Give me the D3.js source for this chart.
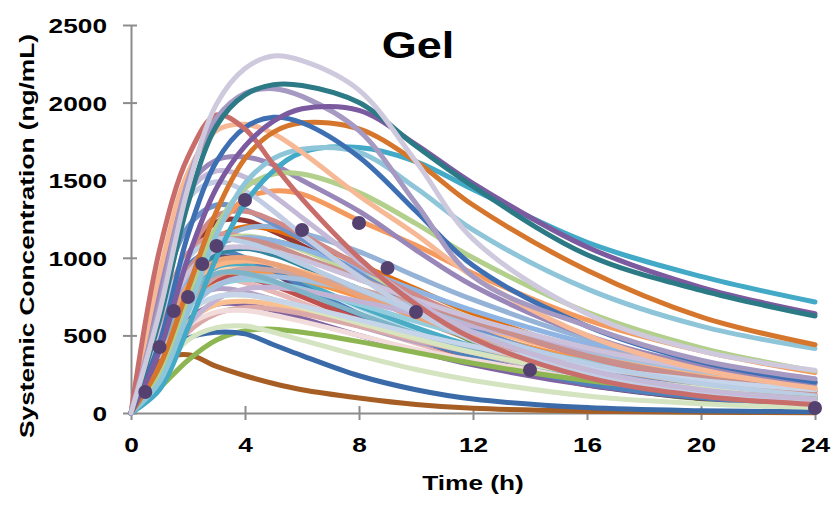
<!DOCTYPE html>
<html>
<head>
	<title>Gel</title>
	<script src="https://cdnjs.cloudflare.com/ajax/libs/d3/7.8.5/d3.min.js"></script>
	<style>
		body { margin: 0; background: #fff; }
		text { font-family: "Liberation Sans", Arial, sans-serif; font-weight: bold; fill: #000; }
	</style>
</head>
<body>
<script>
// sampling times (h) for every simulated profile
var hours = [0, 1, 2, 3, 4, 5, 6, 8, 10, 12, 16, 20, 24];

// simulated profiles (ng/mL)
var concentrations = [
	[0, 500, 1000, 1230, 1240, 1170, 1080, 880, 700, 540, 310, 180, 100],
	[0, 380, 850, 1120, 1200, 1180, 1120, 960, 800, 640, 400, 250, 160],
	[0, 400, 860, 1100, 1190, 1200, 1160, 1040, 880, 730, 480, 310, 200],
	[0, 600, 1030, 1150, 1130, 1050, 960, 780, 610, 470, 270, 155, 90],
	[0, 400, 850, 1080, 1130, 1110, 1060, 880, 650, 460, 200, 90, 40],
	[0, 500, 900, 1020, 1000, 930, 850, 680, 530, 400, 220, 120, 70],
	[0, 350, 720, 900, 950, 930, 880, 760, 630, 510, 330, 210, 130],
	[0, 450, 850, 1000, 980, 900, 800, 620, 460, 340, 180, 95, 50],
	[0, 380, 780, 940, 960, 910, 840, 690, 550, 430, 260, 155, 90],
	[0, 300, 680, 860, 910, 900, 860, 750, 630, 520, 340, 220, 140],
	[0, 450, 800, 870, 840, 780, 710, 570, 450, 350, 200, 115, 65],
	[0, 350, 730, 860, 870, 820, 750, 600, 470, 360, 200, 110, 60],
	[0, 300, 600, 700, 700, 660, 610, 500, 400, 310, 180, 100, 60],
	[0, 400, 720, 800, 780, 730, 670, 560, 460, 380, 250, 165, 110],
	[0, 280, 580, 700, 720, 700, 660, 570, 480, 400, 270, 180, 120],
	[0, 550, 950, 1050, 1000, 920, 820, 640, 480, 360, 190, 100, 55],
	[0, 420, 830, 1020, 1060, 1020, 950, 800, 650, 520, 320, 190, 110],
	[0, 450, 900, 1100, 1140, 1110, 1050, 900, 750, 610, 390, 240, 150],
	[0, 320, 660, 820, 860, 840, 800, 700, 590, 490, 330, 220, 140],
	[0, 250, 520, 640, 680, 670, 640, 560, 470, 390, 260, 170, 110],
	[0, 400, 800, 950, 980, 960, 910, 800, 680, 560, 370, 240, 150],
	[0, 450, 880, 1080, 1130, 1110, 1060, 930, 790, 660, 450, 300, 200],
	[0, 300, 560, 650, 660, 630, 590, 500, 410, 340, 220, 140, 90],
	[0, 700, 1200, 1340, 1310, 1220, 1120, 900, 700, 540, 310, 170, 100],
	[0, 500, 1020, 1270, 1300, 1240, 1150, 950, 760, 600, 360, 210, 120],
	[0, 350, 700, 880, 930, 920, 890, 800, 700, 600, 420, 290, 200],
	[0, 300, 650, 820, 880, 880, 860, 780, 680, 580, 400, 270, 180],
	[0, 420, 820, 980, 1000, 960, 900, 760, 620, 500, 310, 190, 120],
	[0, 250, 560, 730, 800, 810, 790, 720, 640, 560, 410, 300, 220],
	[0, 380, 760, 900, 900, 850, 780, 640, 510, 400, 240, 145, 85],
	[0, 500, 920, 1100, 1120, 1080, 1010, 870, 720, 590, 370, 230, 140],
	[0, 500, 900, 1050, 1070, 1040, 990, 860, 730, 610, 420, 280, 190],
	[0, 330, 640, 750, 760, 730, 680, 580, 480, 390, 250, 160, 100],
	[0, 350, 650, 750, 760, 730, 690, 600, 510, 430, 300, 210, 150],
	[0, 600, 1000, 1120, 1100, 1040, 960, 800, 650, 520, 320, 190, 110],
	[0, 330, 375, 300, 240, 190, 150, 97, 55, 30, 12, 5, 2],
	[0, 160, 340, 470, 530, 540, 520, 460, 390, 320, 210, 140, 90],
	[0, 300, 480, 520, 510, 440, 370, 240, 150, 90, 35, 15, 8],
	[0, 250, 470, 550, 560, 520, 470, 370, 280, 210, 110, 60, 35],
	[0, 300, 800, 1180, 1380, 1430, 1410, 1240, 1080, 900, 600, 400, 260],
	[0, 850, 1380, 1490, 1430, 1300, 1150, 880, 650, 470, 250, 130, 80],
	[0, 800, 1420, 1560, 1520, 1400, 1260, 980, 720, 520, 280, 150, 90],
	[0, 800, 1450, 1630, 1650, 1600, 1500, 1300, 1050, 820, 500, 300, 190],
	[0, 250, 750, 1200, 1450, 1540, 1540, 1420, 1220, 1000, 650, 420, 270],
	[0, 150, 550, 1000, 1350, 1560, 1680, 1710, 1620, 1440, 1100, 880, 715],
	[0, 200, 650, 1150, 1480, 1640, 1700, 1680, 1450, 1180, 800, 560, 415],
	[0, 900, 1550, 1820, 1860, 1800, 1680, 1400, 1150, 880, 500, 280, 160],
	[0, 300, 800, 1300, 1640, 1810, 1870, 1830, 1620, 1340, 920, 620, 440],
	[0, 450, 1150, 1620, 1840, 1905, 1870, 1650, 1300, 950, 560, 330, 200],
	[0, 1050, 1650, 1920, 1830, 1600, 1380, 1000, 700, 480, 230, 110, 55],
	[0, 700, 1500, 1900, 2060, 2090, 2040, 1820, 1350, 880, 560, 340, 220],
	[0, 400, 1000, 1450, 1720, 1880, 1960, 1950, 1730, 1480, 1070, 810, 640],
	[0, 600, 1350, 1850, 2050, 2115, 2110, 2000, 1720, 1460, 1020, 790, 625],
	[0, 650, 1450, 1990, 2220, 2300, 2270, 2080, 1620, 1120, 640, 400, 275]
];

// one colour per profile, same order
var palette = [
	"#953735", "#e46c0a", "#95b3d7", "#d99694", "#77933c", "#b7dee8", "#fcd5b5", "#604a7b",
	"#4bacc6", "#f79646", "#e6b9b8", "#c0504d", "#8064a2", "#b3a2c7", "#fac090", "#4f81bd",
	"#31859c", "#c3d69b", "#93cddd", "#dba9a7", "#fab585", "#8eb4e3", "#f2dcdb", "#6f93c8",
	"#d08a88", "#c9a5a3", "#a5bfdd", "#e9a27a", "#c2b3d4", "#7fb3c8", "#c88f8d",
	"#ccc1da", "#d7e4bd", "#c6d5ea", "#b9cde5", "#a65e24", "#8db652", "#3a6aa8",
	"#d4e3c0", "#f59a5e", "#c2cde3", "#c4b9d6", "#9a87b9", "#b3cf8c", "#42a9c6", "#8fc5d9",
	"#f7b995", "#d5762c", "#3d6fb2", "#c96d6b", "#a699c2", "#7b5a9f", "#2b7a86", "#cfc9de"
];

// observed data
var obsHours = [0.5, 1, 1.5, 2, 2.5, 3, 4, 6, 8, 9, 10, 14, 24];
var obsConc = [135, 425, 657, 747, 960, 1076, 1372, 1179, 1224, 934, 651, 277, 32];

var xTicks = [0, 4, 8, 12, 16, 20, 24];
var yTicks = [0, 500, 1000, 1500, 2000, 2500];

var width = 837, height = 506;
var stretch = 1.25; // the source text is drawn wide

var svg = d3.select("body").append("svg")
	.attr("width", width)
	.attr("height", height);

var x = d3.scaleLinear().domain([0, 24]).range([131, 815]);
var y = d3.scaleLinear().domain([0, 2500]).range([413, 25]);

// axes
var xAxis = svg.append("g")
	.attr("transform", "translate(0," + y(0) + ")")
	.call(d3.axisBottom(x).tickValues(xTicks).tickSizeInner(7).tickSizeOuter(0).tickFormat(d3.format("d")));
var yAxis = svg.append("g")
	.attr("transform", "translate(" + x(0) + ",0)")
	.call(d3.axisLeft(y).tickValues(yTicks).tickSizeInner(8).tickSizeOuter(0).tickFormat(d3.format("d")));

[xAxis, yAxis].forEach(function(g) {
	g.select(".domain").attr("stroke", "#8c8c8c").attr("stroke-width", 2);
	g.selectAll(".tick line").attr("stroke", "#8c8c8c").attr("stroke-width", 2);
	g.selectAll(".tick text")
		.attr("fill", "#000")
		.style("font-size", "21px")
		.style("font-family", "\"Liberation Sans\", Arial, sans-serif")
		.style("font-weight", "bold");
});
xAxis.selectAll(".tick line").attr("y1", -7);
xAxis.selectAll(".tick text")
	.attr("y", 0).attr("dy", 0)
	.attr("transform", "translate(0,39) scale(" + stretch + ",1)");
yAxis.selectAll(".tick line").attr("x2", -8).attr("x1", 6);
yAxis.selectAll(".tick text")
	.attr("x", 0).attr("dy", "0.36em")
	.attr("transform", "translate(-24,0) scale(" + stretch + ",1)");

// profiles
var line = d3.line()
	.x(function(d, i) { return x(hours[i]); })
	.y(function(d) { return y(d); })
	.curve(d3.curveCatmullRom.alpha(0.5));

svg.append("g").selectAll("path")
	.data(concentrations)
	.enter().append("path")
	.attr("d", line)
	.attr("fill", "none")
	.attr("stroke", function(d, i) { return palette[i]; })
	.attr("stroke-width", 5)
	.attr("stroke-linecap", "round");

// observed points
svg.append("g").selectAll("circle")
	.data(obsHours)
	.enter().append("circle")
	.attr("cx", function(d) { return x(d); })
	.attr("cy", function(d, i) { return y(obsConc[i]); })
	.attr("r", 7)
	.attr("fill", "#54416f");

// titles
svg.append("text")
	.attr("text-anchor", "middle")
	.attr("transform", "translate(418,58) scale(" + stretch + ",1)")
	.style("font-size", "36px")
	.text("Gel");

svg.append("text")
	.attr("text-anchor", "middle")
	.attr("transform", "translate(473,490) scale(" + stretch + ",1)")
	.style("font-size", "21px")
	.text("Time (h)");

svg.append("text")
	.attr("text-anchor", "middle")
	.attr("transform", "translate(34,236) rotate(-90) scale(" + stretch + ",1)")
	.style("font-size", "21px")
	.text("Systemic Concentration (ng/mL)");
</script>
</body>
</html>
